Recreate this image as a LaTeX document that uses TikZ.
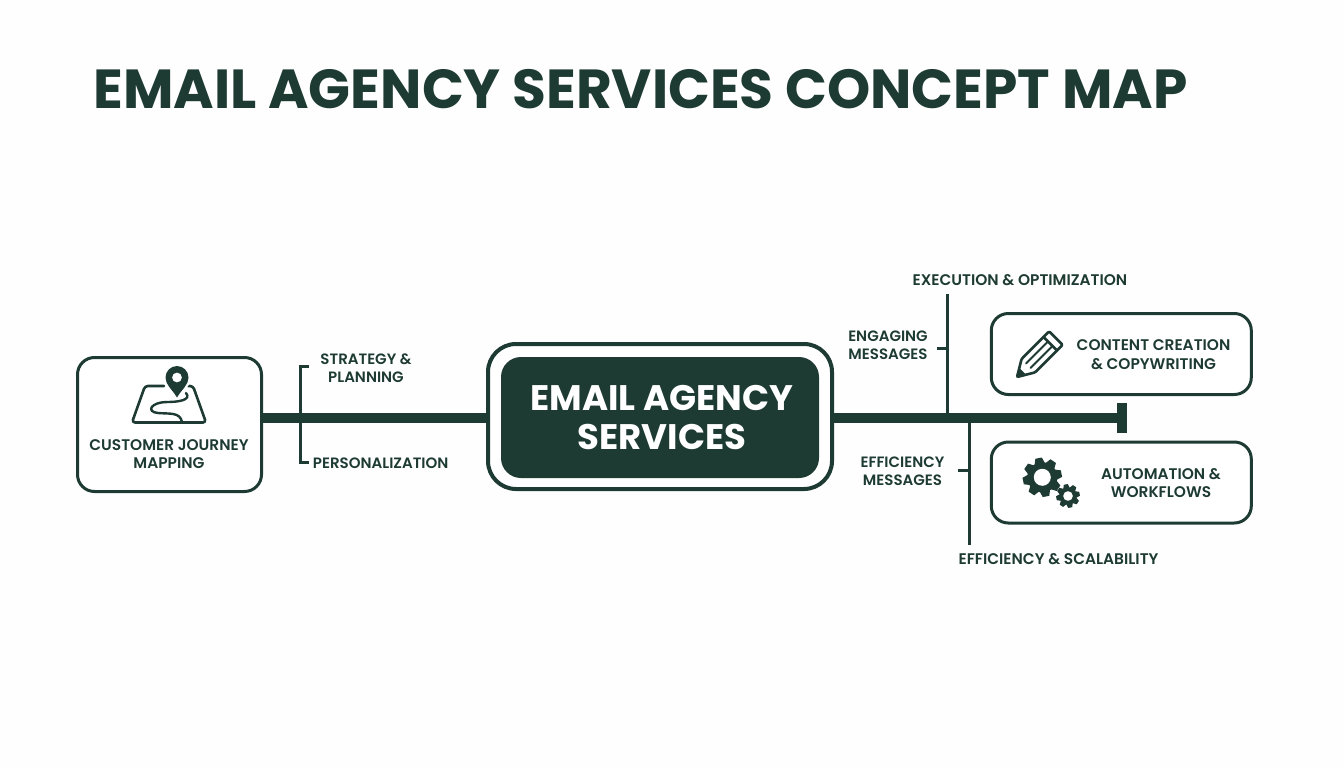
\documentclass[tikz,border=0pt]{standalone}
\usepackage{fontspec}
\setmainfont{Poppins}
\newfontfamily\semi{Poppins SemiBold}
\definecolor{ink}{HTML}{1E3B33}
\definecolor{paper}{HTML}{FDFEFD}
\tikzset{
  every node/.style={inner sep=0pt,outer sep=0pt,text=ink},
  box/.style={draw=ink,line width=3pt,rounded corners=17pt,fill=white,minimum width=#1},
  label/.style={font=\fontsize{15}{18}\semi,align=center,anchor=center},
  boxtext/.style={font=\fontsize{15.4}{18.3}\semi,align=center,anchor=center},
  bus/.style={draw=ink,line width=10pt},
  branch/.style={draw=ink,line width=3pt},
  icon/.style={draw=ink,line width=2.6pt,line join=round,line cap=round},
}
\newcommand{\gearicon}[6]{% x y outer root hole teeth
  \fill[ink] (#1,#2) circle[radius=#4];
  \foreach \a in {1,...,#6}{
    \fill[ink,shift={(#1,#2)},rotate=360*\a/#6+11]
      (-#3*0.27,-#4*0.9) -- (-#3*0.17,-#3) -- (#3*0.17,-#3) -- (#3*0.27,-#4*0.9) -- cycle;
  }
  \fill[white] (#1,#2) circle[radius=#5];
}
\begin{document}
\begin{tikzpicture}[x=1pt,y=-1pt]
\useasboundingbox (0,0) rectangle (1344,768);
\fill[paper] (0,0) rectangle (1344,768);

\node[font=\fontsize{55}{60}\selectfont\bfseries,anchor=center] (title) at (640.5,89) {EMAIL AGENCY SERVICES CONCEPT MAP};

% boxes
\node[box=184pt,minimum height=134pt] (journey) at (169.5,424.5) {};
\node[box=344pt,minimum height=145pt,line width=4pt,rounded corners=28pt] (hub) at (660,416.5) {};
\node[box=318pt,minimum height=121pt,draw=none,fill=ink,rounded corners=20pt] (hubin) at (660,417.5) {};
\node[font=\fontsize{35.5}{38.5}\selectfont\bfseries,align=center] (hubtext) at (662,417.5) {\textcolor{white}{EMAIL AGENCY}\\\textcolor{white}{SERVICES}};
\node[box=260pt,minimum height=81pt] (content) at (1121.3,354) {};
\node[box=260pt,minimum height=81pt] (auto) at (1121.3,482.5) {};

% coordinates
\coordinate (busend) at (1122,418);
\coordinate (capA) at (1122,403);
\coordinate (capB) at (1122,433);
\coordinate (brTL) at (309,366);
\coordinate (brTC) at (300.7,366);
\coordinate (brBC) at (300.7,462);
\coordinate (brBL) at (309,462);
\coordinate (exTop) at (947.7,294);
\coordinate (exBot) at (947.7,418);
\coordinate (exTickA) at (937,348);
\coordinate (exTickB) at (947.7,348);
\coordinate (efTop) at (969,418);
\coordinate (efBot) at (969,545);
\coordinate (efTickA) at (958,470);
\coordinate (efTickB) at (969,470);

% connectors
\draw[bus] (journey.east |- busend) -- (hub.west |- busend);
\draw[bus] (hub.east |- busend) -- (busend);
\draw[draw=ink,line width=10pt] (capA) -- (capB);
\draw[branch] (brTL) -- (brTC) -- (brBC) -- (brBL);
\draw[branch] (exTop) -- (exBot);
\draw[branch] (exTickA) -- (exTickB);
\draw[branch] (efTop) -- (efBot);
\draw[branch] (efTickA) -- (efTickB);

% labels
\node[boxtext] (tjourney) at (169,454) {CUSTOMER JOURNEY\\MAPPING};
\node[label] (lstrategy) at (366,368) {STRATEGY \&\\PLANNING};
\node[label] (lperson) at (380.7,463) {PERSONALIZATION};
\node[label,font=\fontsize{15.4}{18}\semi] (lexec) at (1020,280.5) {EXECUTION \& OPTIMIZATION};
\node[label] (lengage) at (888,345) {ENGAGING\\MESSAGES};
\node[label] (leffmsg) at (902.5,471) {EFFICIENCY\\MESSAGES};
\node[label,font=\fontsize{15.4}{18}\semi] (leffscale) at (1058.5,559.5) {EFFICIENCY \& SCALABILITY};
\node[boxtext] (tcontent) at (1153.5,354.5) {CONTENT CREATION\\\& COPYWRITING};
\node[boxtext] (tauto) at (1161,483) {AUTOMATION \&\\WORKFLOWS};

% map icon
\draw[icon,rounded corners=3pt] (164,386) -- (145,386) -- (132,422.5) -- (206,422.5) -- (193,386) -- (188,386);
\draw[icon,line width=2.4pt] (186,393) .. controls (192,400) and (178,402) .. (168,402)
  .. controls (150,402) and (146,412) .. (158,413)
  .. controls (170,414) and (180,412) .. (182,422);
\fill[white] (177,400) -- (163.5,382) arc[start angle=162,end angle=378,radius=14.5] -- cycle;
\fill[ink,even odd rule] (177,397.5) .. controls (172,389) and (165.5,385) .. (165.5,377.5)
  arc[start angle=180,end angle=360,radius=11.5]
  .. controls (188.5,385) and (182,389) .. (177,397.5) -- cycle
  (177,377.5) circle[radius=5];

% pencil icon
\begin{scope}[shift={(1017,377)},rotate=45]
  \draw[icon,rounded corners=1.2pt] (16,-9.5) -- (55,-9.5) -- (55,9.5) -- (16,9.5) -- (0,0) -- cycle;
  \draw[icon] (47,-9.5) -- (47,9.5);
  \draw[icon,line width=2pt] (16,-3.2) -- (47,-3.2);
  \draw[icon,line width=2pt] (16,3.2) -- (47,3.2);
  \fill[ink] (-1,0) -- (8,-5.5) -- (8,5.5) -- cycle;
\end{scope}

% gears
\gearicon{1042.3}{477.3}{19.5}{15}{8.5}{8}
\gearicon{1068}{496}{11.8}{9}{4.8}{8}
\end{tikzpicture}
\end{document}
